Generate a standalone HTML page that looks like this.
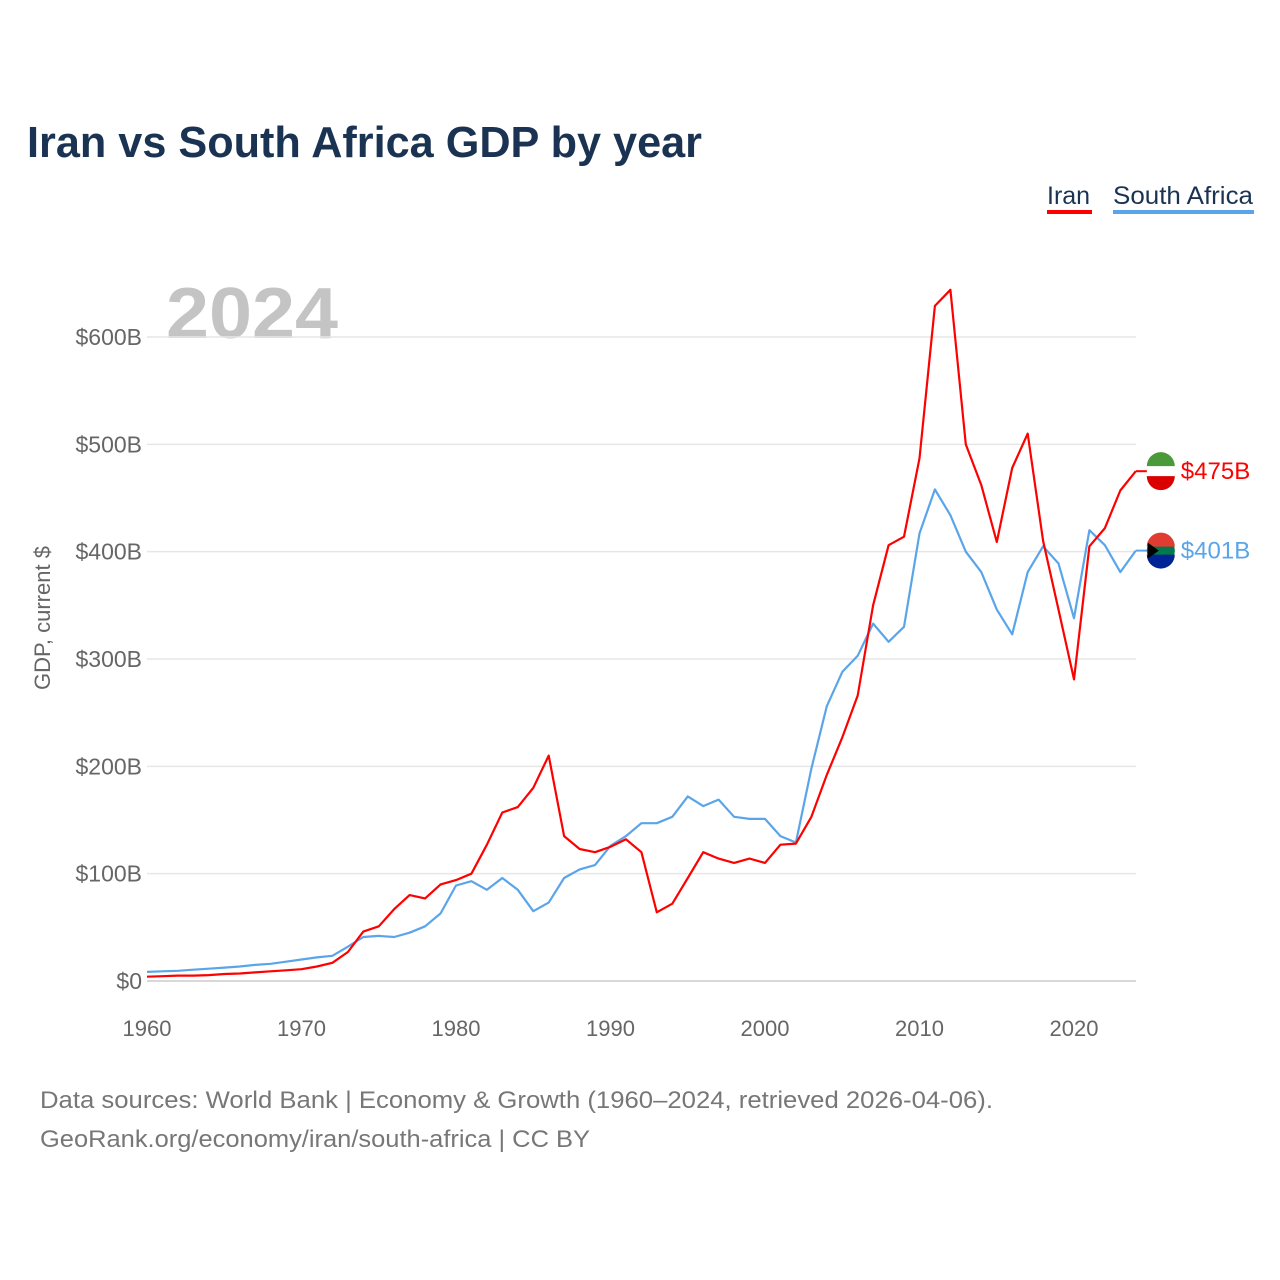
<!DOCTYPE html>
<html><head><meta charset="utf-8"><style>
body{margin:0;background:#fff;font-family:"Liberation Sans",sans-serif;}
svg{display:block}
</style></head><body>
<svg width="1280" height="1280" xmlns="http://www.w3.org/2000/svg">
<text x="27" y="157" font-size="44" font-weight="bold" fill="#1b3352" textLength="675" lengthAdjust="spacingAndGlyphs">Iran vs South Africa GDP by year</text>
<g>
<text x="1047" y="204" font-size="25" fill="#1b3352">Iran</text>
<rect x="1047" y="210" width="45" height="4" fill="#ff0000"/>
<text x="1113" y="204" font-size="25" fill="#1b3352" textLength="140" lengthAdjust="spacingAndGlyphs">South Africa</text>
<rect x="1113" y="210" width="141" height="4" fill="#5aa5ea"/>
</g>
<text x="166" y="338" font-size="72" font-weight="bold" fill="#c4c4c4" textLength="172" lengthAdjust="spacingAndGlyphs">2024</text>
<g id="grid"></g>
<g id="xt"></g>
<text transform="translate(50,618) rotate(-90)" text-anchor="middle" font-size="22" fill="#666">GDP, current $</text>
<g id="lines"></g>
<g id="ends"></g>
<text x="40" y="1108" font-size="24" fill="#777" textLength="953" lengthAdjust="spacingAndGlyphs">Data sources: World Bank | Economy &amp; Growth (1960–2024, retrieved 2026-04-06).</text>
<text x="40" y="1147" font-size="24" fill="#777" textLength="550" lengthAdjust="spacingAndGlyphs">GeoRank.org/economy/iran/south-africa | CC BY</text>
</svg>
<script>
const years=[];for(let y=1960;y<=2024;y++)years.push(y);
const iran=[4,4.5,5,5,5.5,6.5,7,8,9,10,11,13.5,17,27,46,51,67,80,77,90,94,100,127,157,162,180,210,135,123,120,125,132,120,64,72,96,120,114,110,114,110,127,128,153,192,227,266,350,406,414,487,629,644,500,462,409,478,510,410,346,281,405,422,457,475];
const za=[8.5,9,9.5,10.5,11.5,12.5,13.5,15,16,18,20,22,23.5,32,41,42,41,45,51,63,89,93,85,96,85,65,73,96,104,108,126,135,147,147,153,172,163,169,153,151,151,135,129,198,256,288,303,333,316,330,417,458,434,400,381,346,323,381,405,389,338,420,406,381,401];
const yTicks=[0,100,200,300,400,500,600];
const xTicks=[1960,1970,1980,1990,2000,2010,2020];
const X=y=>147+(y-1960)*15.45, Y=v=>981-v*1.0733;
const NS="http://www.w3.org/2000/svg";
function mk(t,a,p,txt){const e=document.createElementNS(NS,t);for(const k in a)e.setAttribute(k,a[k]);if(txt!=null)e.textContent=txt;p.appendChild(e);return e;}
const g=document.getElementById('grid');
yTicks.forEach(v=>{
 const l=mk('line',{x1:147,x2:1136,y1:Y(v),y2:Y(v),stroke:v?'#e6e6e6':'#ccc','stroke-width':1.5},g);
 
 
 const t=mk('text',{x:142,y:Y(v)+8,'text-anchor':'end','font-size':23,fill:'#666'},g,'$'+v+(v?'B':''));
 
 
});
const xt=document.getElementById('xt');
xTicks.forEach(y=>{
 const t=mk('text',{x:X(y),y:1036,'text-anchor':'middle','font-size':22,fill:'#666'},xt,String(y));
 
 
});
const lg=document.getElementById('lines');
function line(d,c,n){const p=mk('path',{d:d.map((v,i)=>(i?'L':'M')+X(years[i]).toFixed(1)+','+Y(v).toFixed(1)).join(''),fill:'none',stroke:c,'stroke-width':2.2,'stroke-linejoin':'round'},lg);
 
 }
line(za,'#5aa5ea','line-south-africa');
line(iran,'#ff0000','line-iran');
const e=document.getElementById('ends');
function end(v,c,n,flag){const yy=Y(v);const xx=X(2024);
 mk('line',{x1:xx,x2:xx+12,y1:yy,y2:yy,stroke:c,'stroke-width':2},e);
 const cx=xx+25;
 if(flag==='ir'){mk('circle',{cx:cx,cy:yy,r:14,fill:'#fff'},e);
  mk('path',{d:`M${cx-14},${yy-5}A14,14 0 0 1 ${cx+14},${yy-5}Z`,fill:'#4a9a3a'},e);
  mk('path',{d:`M${cx-14},${yy+5}A14,14 0 0 0 ${cx+14},${yy+5}Z`,fill:'#da0000'},e);}
 else{mk('circle',{cx:cx,cy:yy,r:14,fill:'#007a4d'},e);
  mk('path',{d:`M${cx-14},${yy-4}A14,14 0 0 1 ${cx+14},${yy-4}Z`,fill:'#e03c31'},e);
  mk('path',{d:`M${cx-14},${yy+4}A14,14 0 0 0 ${cx+14},${yy+4}Z`,fill:'#002395'},e);
  mk('path',{d:`M${cx-13},${yy-8}L${cx-2},${yy}L${cx-13},${yy+8}Z`,fill:'#000'},e);}
 const t=mk('text',{x:cx+20,y:yy+8,'font-size':24,fill:c},e,'$'+v+'B');
 
 }
end(iran[iran.length-1],'#ff0000','end-label-iran','ir');
end(za[za.length-1],'#5aa5ea','end-label-south-africa','za');
</script>
</body></html>
